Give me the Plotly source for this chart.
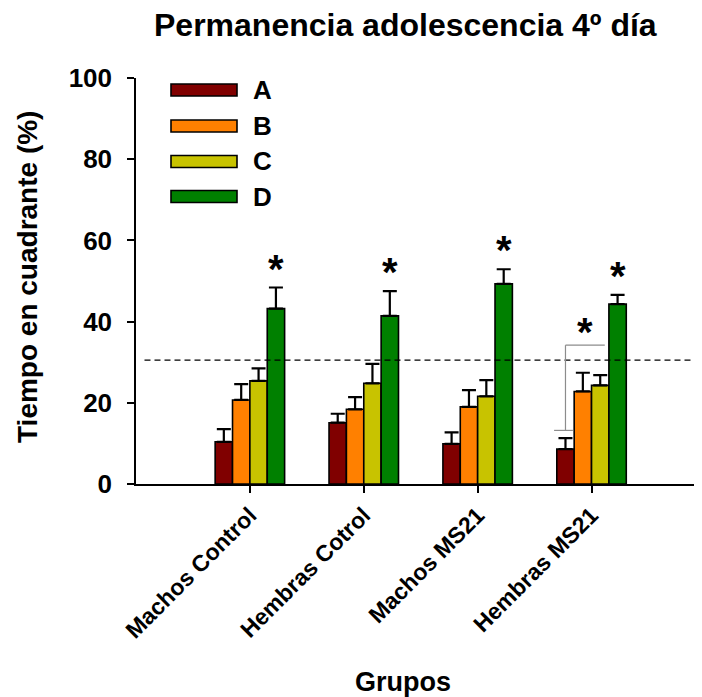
import plotly.graph_objects as go

# ---- data ----
categories = ["Machos Control", "Hembras Cotrol", "Machos MS21", "Hembras MS21"]
series_names = ["A", "B", "C", "D"]
series_values = {
    "A": [10.4, 15.1, 9.9, 8.6],
    "B": [20.7, 18.4, 19.0, 22.8],
    "C": [25.4, 24.8, 21.6, 24.3],
    "D": [43.2, 41.4, 49.3, 44.3],
}
series_errors = {
    "A": [3.1, 2.2, 2.8, 2.7],
    "B": [3.9, 3.0, 4.1, 4.6],
    "C": [3.1, 4.8, 4.0, 2.5],
    "D": [5.2, 6.1, 3.6, 2.3],
}
colors = {"A": "#800000", "B": "#FF8000", "C": "#C8C300", "D": "#008000"}
reference_level = 30.5
y_ticks = [0, 20, 40, 60, 80, 100]
# significance: asterisk over D in every group; bracket A..C in last group
bracket_group = 3
bracket_low, bracket_high = 13.2, 34.2

OFF = 8  # page body margin
W, H = 702 - OFF, 697 - OFF
L, R, T = 136 - OFF, 0, 78 - OFF
B = H - (484 - OFF)
pw, ph = W - L - R, H - T - B

def px(x):  # screen x -> plot paper fraction
    return (x - OFF - L) / pw

def py(y):  # screen y -> plot paper fraction
    return 1 - (y - OFF - T) / ph

BARGAP = 0.39
bw = (1 - BARGAP) / 4

fig = go.Figure()
for s in series_names:
    fig.add_trace(go.Bar(
        x=list(range(len(categories))), y=series_values[s], name=s,
        marker=dict(color=colors[s], line=dict(color="black", width=1.6)),
        error_y=dict(type="data", array=series_errors[s],
                     arrayminus=[0] * len(categories), symmetric=False,
                     color="black", thickness=2.2, width=7),
        showlegend=False,
    ))

shapes = []
annotations = []

# reference dashed line
shapes.append(dict(type="line", xref="paper", yref="y", x0=0.015, x1=1,
                   y0=reference_level, y1=reference_level,
                   line=dict(color="black", width=1.2, dash="6px,4px")))

# asterisks above D bars
for i in range(len(categories)):
    top = series_values["D"][i] + series_errors["D"][i]
    annotations.append(dict(x=i + 1.5 * bw, y=top, xref="x", yref="y",
                            text="<b>*</b>", showarrow=False, yanchor="bottom",
                            yshift=-5,
                            font=dict(family="Arial", size=40, color="black")))

# bracket in last group
g = bracket_group
xa = g - 1.5 * bw
xc = g + 0.5 * bw
gray = dict(color="#8c8c8c", width=1.2)
shapes.append(dict(type="line", xref="x", yref="y", x0=xa - 0.1, x1=xa + 0.065,
                   y0=bracket_low, y1=bracket_low, line=gray))
shapes.append(dict(type="line", xref="x", yref="y", x0=xa, x1=xa,
                   y0=bracket_low, y1=bracket_high, line=gray))
shapes.append(dict(type="line", xref="x", yref="y", x0=xa, x1=xc + 0.04,
                   y0=bracket_high, y1=bracket_high, line=gray))
annotations.append(dict(x=(xa + xc + 0.04) / 2, y=bracket_high, xref="x", yref="y",
                        text="<b>*</b>", showarrow=False, yanchor="bottom",
                        yshift=-11,
                        font=dict(family="Arial", size=40, color="black")))

# manual legend
leg_y = [90, 126, 161.5, 196.5]
for s, yc in zip(series_names, leg_y):
    shapes.append(dict(type="rect", xref="paper", yref="paper",
                       x0=px(171), x1=px(237), y0=py(yc + 6), y1=py(yc - 6),
                       fillcolor=colors[s], line=dict(color="black", width=1.6)))
    annotations.append(dict(x=px(251), y=py(yc), xref="paper", yref="paper",
                            text="<b>%s</b>" % s, showarrow=False,
                            xanchor="left", yanchor="middle",
                            font=dict(family="Arial", size=26, color="black")))

# title and axis titles
annotations.append(dict(x=px(405), y=py(25), xref="paper", yref="paper",
                        text="<b>Permanencia adolescencia 4º día</b>",
                        showarrow=False, xanchor="center", yanchor="middle",
                        font=dict(family="Arial", size=32, color="black")))
annotations.append(dict(x=px(403), y=py(682), xref="paper", yref="paper",
                        text="<b>Grupos</b>", showarrow=False,
                        xanchor="center", yanchor="middle",
                        font=dict(family="Arial", size=27, color="black")))
annotations.append(dict(x=px(27), y=py(277), xref="paper", yref="paper",
                        text="<b>Tiempo en cuadrante (%)</b>", showarrow=False,
                        textangle=-90, xanchor="center", yanchor="middle",
                        font=dict(family="Arial", size=28, color="black")))

fig.update_layout(
    width=W, height=H,
    margin=dict(l=L, r=R, t=T, b=B, pad=0),
    plot_bgcolor="white", paper_bgcolor="white",
    barmode="group", bargap=BARGAP, bargroupgap=0,
    shapes=shapes, annotations=annotations,
    font=dict(family="Arial", color="black"),
    xaxis=dict(range=[-1, 3.97], tickmode="array",
               tickvals=list(range(len(categories))),
               ticktext=["<b>%s</b>" % c for c in categories],
               tickangle=-45, tickfont=dict(family="Arial", size=23),
               showline=True, linecolor="black", linewidth=1.5,
               ticks="outside", ticklen=7, tickcolor="black", tickwidth=1.5,
               showgrid=False, zeroline=False),
    yaxis=dict(range=[0, 100], tickmode="array", tickvals=y_ticks,
               ticktext=["<b>%d</b>" % v for v in y_ticks],
               tickfont=dict(family="Arial", size=26),
               showline=True, linecolor="black", linewidth=1.5,
               ticks="outside", ticklen=7, tickcolor="black", tickwidth=1.5,
               ticklabelstandoff=10,
               showgrid=False, zeroline=False),
)

fig.write_html("out.html")
